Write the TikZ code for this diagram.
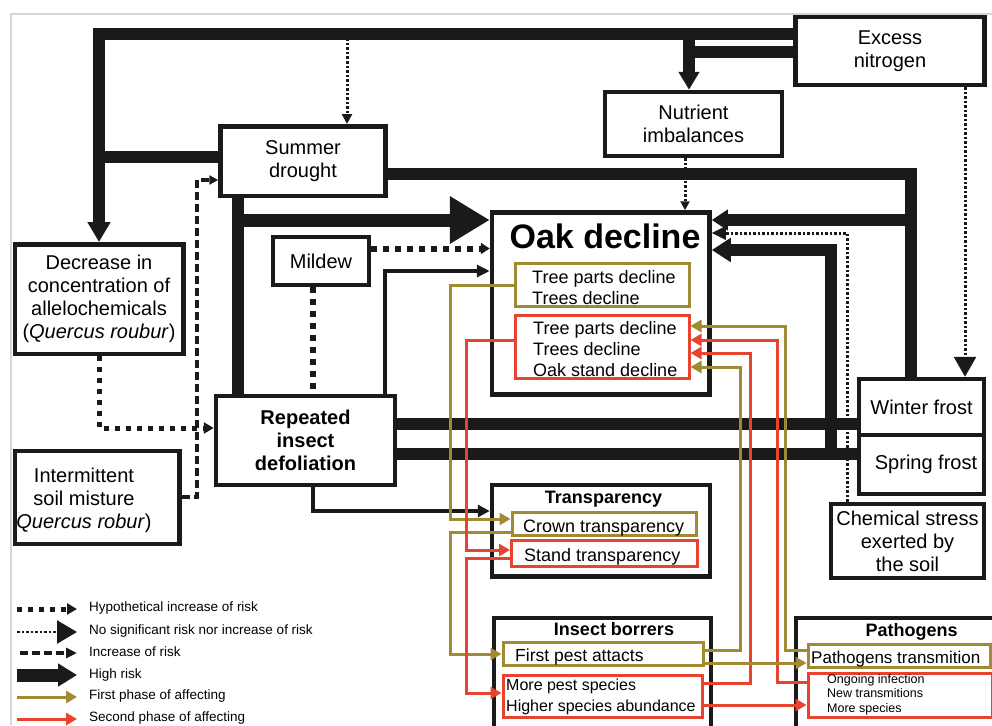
\documentclass[tikz,border=0pt]{standalone}
\usepackage{fontspec}
\setmainfont{Liberation Sans}
\usetikzlibrary{arrows.meta}
\pgfdeclarelayer{back}
\pgfdeclarelayer{bg}
\pgfsetlayers{back,bg,main}
\definecolor{blk}{HTML}{1A1A1A}
\definecolor{olv}{HTML}{A08A34}
\definecolor{rd}{HTML}{E8432F}
\definecolor{frm}{HTML}{D6D6D6}
\begin{document}
\begin{tikzpicture}[x=1pt,y=-1pt,
  bx/.style={draw=blk, line width=4.5pt, fill=white, inner sep=0pt, align=center, font=\fontsize{20}{23}\selectfont},
  ibo/.style={draw=olv, line width=3pt, fill=white, inner sep=0pt},
  ibr/.style={draw=rd, line width=3pt, fill=white, inner sep=0pt},
  txt/.style={inner sep=0pt, font=\fontsize{18}{21}\selectfont, align=left},
  ttl/.style={inner sep=0pt, font=\fontsize{18}{21}\selectfont\bfseries},
  lgt/.style={inner sep=0pt, font=\fontsize{13.5}{15}\selectfont, anchor=west},
  hi/.style={draw=blk, line width=12pt},
  thinb/.style={draw=blk, line width=3.2pt},
  hyp/.style={draw=blk, line width=5pt, dash pattern=on 5pt off 6pt},
  hypb/.style={draw=blk, line width=6pt, dash pattern=on 6pt off 6pt},
  nsr/.style={draw=blk, line width=3pt, dash pattern=on 2.5pt off 2pt},
  inc/.style={draw=blk, line width=4pt, dash pattern=on 8pt off 4pt},
  ph1/.style={draw=olv, line width=3pt},
  ph2/.style={draw=rd, line width=3pt},
  ctip/.tip={Triangle[width=12pt,length=11pt]},
]
\useasboundingbox (0,0) rectangle (992,725);
\begin{pgfonlayer}{back}
\fill[white] (0,0) rectangle (992,725);
\draw[frm, line width=2pt] (11,725) -- (11,14) -- (992,14);
\end{pgfonlayer}
\clip (0,0) rectangle (992,725);

% ---------- boxes ----------
\node[bx, minimum width=189pt, minimum height=67.5pt] (exc) at (890,51) {Excess\\nitrogen};
\node[bx, minimum width=177pt, minimum height=64pt] (nut) at (693.5,124) {Nutrient\\imbalances};
\node[bx, minimum width=165pt, minimum height=69.5pt] (sum) at (303,161) {Summer\\drought};
\node[bx, minimum width=217.5pt, minimum height=182pt] (oak) at (600.75,303.5) {};
\node[inner sep=0pt, font=\fontsize{34}{36}\selectfont\bfseries, anchor=base] (oakT) at (605,248) {Oak decline};
\node[ibo, minimum width=174pt, minimum height=43pt] (oakO) at (602,285) {};
\node[txt, anchor=west] (oakOT) at (532,288) {Tree parts decline\\Trees decline};
\node[ibr, minimum width=174pt, minimum height=62.5pt] (oakR) at (602,346.75) {};
\node[txt, anchor=west] (oakRT) at (533,349.5) {Tree parts decline\\Trees decline\\Oak stand decline};
\node[bx, minimum width=96pt, minimum height=48pt] (mil) at (321,261) {Mildew};
\node[bx, minimum width=168.5pt, minimum height=109.5pt] (dec) at (99,299) {Decrease in\\concentration of\\allelochemicals\\(\textit{Quercus roubur})};
\node[bx, minimum width=179pt, minimum height=89pt, font=\fontsize{20}{23}\selectfont\bfseries] (def) at (305.5,440.5) {Repeated\\insect\\defoliation};
\node[bx, minimum width=164.5pt, minimum height=93pt] (int) at (97,497.5) {};
\node[inner sep=0pt, align=center, font=\fontsize{20}{23}\selectfont] (intT) at (84,500) {Intermittent\\soil misture\\\textit{Quercus robur})};
\node[bx, minimum width=125pt, minimum height=56pt] (win) at (921.5,407) {Winter frost};
\node[bx, minimum width=125pt, minimum height=59pt] (spr) at (921.5,464.5) {\hspace*{9pt}Spring frost};
\node[bx, minimum width=153pt, minimum height=74pt] (chem) at (907.5,541) {Chemical stress\\exerted by\\the soil};
\node[bx, minimum width=218pt, minimum height=91.5pt] (tra) at (601,530.75) {};
\node[ttl, anchor=base] (traT) at (603.5,503) {Transparency};
\node[ibo, minimum width=184pt, minimum height=23.5pt] (cro) at (604,523.75) {};
\node[txt, anchor=base west] (croT) at (523,532) {Crown transparency};
\node[ibr, minimum width=186pt, minimum height=26pt] (sta) at (604.5,553) {};
\node[txt, anchor=base west] (staT) at (524,561) {Stand transparency};
\node[bx, minimum width=217pt, minimum height=130pt] (ins) at (602.5,683) {};
\node[ttl, anchor=base] (insT) at (614,635) {Insect borrers};
\node[ibo, minimum width=200pt, minimum height=23pt] (fir) at (603,654) {};
\node[txt, anchor=base west, font=\fontsize{17.5}{21}\selectfont] (firT) at (515,661) {First pest attacts};
\node[ibr, minimum width=199pt, minimum height=42.5pt] (mor) at (602.5,696.25) {};
\node[txt, anchor=west, font=\fontsize{16}{21}\selectfont] (morT) at (506,696.5) {More pest species\\Higher species abundance};
\node[bx, minimum width=220pt, minimum height=130pt] (pat) at (906,683) {};
\node[ttl, anchor=base] (patT) at (911.5,636) {Pathogens};
\node[ibo, minimum width=182pt, minimum height=23pt] (ptr) at (899,656) {};
\node[txt, anchor=base west, font=\fontsize{17}{20}\selectfont] (ptrT) at (811,663) {Pathogens transmition};
\node[ibr, minimum width=184pt, minimum height=44pt] (pre) at (900,695) {};
\node[txt, anchor=west, font=\fontsize{12.5}{14.5}\selectfont] (preT) at (827,694.5) {Ongoing infection\\New transmitions\\More species};

% ---------- helper coordinates ----------
\coordinate (jTL) at (99,34);
\coordinate (ySB) at (0,157);
\coordinate (yN) at (0,52);
\coordinate (xN) at (689,0);
\coordinate (xD) at (347,0);
\coordinate (xE) at (965,0);
\coordinate (xF) at (685,0);
\coordinate (yG) at (0,174);
\coordinate (xG) at (911,0);
\coordinate (yH) at (0,220);
\coordinate (xI) at (847,0);
\coordinate (yI) at (0,233);
\coordinate (xJ) at (831,0);
\coordinate (yJ) at (0,250);
\coordinate (yS) at (0,454);
\coordinate (yW) at (0,424);
\coordinate (xL) at (238,0);
\coordinate (yM) at (0,248.5);
\coordinate (xO) at (313,0);
\coordinate (xP) at (385,0);
\coordinate (yP) at (0,271);
\coordinate (yT) at (0,511);
\coordinate (yQ) at (0,428);
\coordinate (xR) at (196.5,0);
\coordinate (yR1) at (0,497);
\coordinate (yR2) at (0,180);

% ---------- black connectors ----------
\begin{pgfonlayer}{bg}
\draw[hi, -{Triangle[width=22pt,length=20pt]}] (exc.west |- jTL) -| (dec.north);
\draw[hi] (sum.west |- ySB) -- (dec.north |- ySB);
\draw[hi, -{Triangle[width=20pt,length=18pt]}] (exc.west |- yN) -| (xN |- nut.north);
\draw[hi] (xN |- jTL) -- (xN |- yN);
\draw[nsr, -{Triangle[width=10pt,length=10pt]}] (xD |- jTL) -- (xD |- sum.north);
\draw[nsr, -{Triangle[width=22pt,length=20pt]}] (xE |- exc.south) -- (xE |- win.north);
\draw[nsr, -{Triangle[width=9pt,length=9pt]}] (xF |- nut.south) -- (xF |- oak.north);
\draw[nsr, -{Triangle[width=13pt,length=14pt]}] (xI |- chem.north) |- (oak.east |- yI);
\draw[hi] (sum.east |- yG) -| (xG |- win.north);
\draw[hi, -{Triangle[width=20pt,length=16pt]}] (xG |- win.north) |- (oak.east |- yH);
\draw[hi, -{Triangle[width=23pt,length=19pt]}] (spr.west |- yS) -| (xJ |- yJ) -- (oak.east |- yJ);
\draw[hi] (def.east |- yW) -- (win.west |- yW);
\draw[hi] (def.east |- yS) -- (spr.west |- yS);
\draw[hi] (xL |- sum.south) -- (xL |- def.north);
\draw[draw=blk, line width=13pt, -{Triangle[width=45pt,length=40pt]}] (xL |- yH) -- (oak.west |- yH);
\draw[hypb, -{Triangle[width=11pt,length=9pt]}] (mil.east |- yM) -- (oak.west |- yM);
\draw[hypb] (xO |- mil.south) -- (xO |- def.north);
\draw[thinb, -{Triangle[width=12pt,length=13pt]}] (xP |- def.north) |- (oak.west |- yP);
\draw[thinb, -{Triangle[width=12pt,length=12pt]}] (xO |- def.south) |- (tra.west |- yT);
\draw[hyp, -{Triangle[width=11pt,length=10pt]}] (dec.south) |- (def.west |- yQ);
\draw[inc, -{Triangle[width=9pt,length=9pt]}] (int.east |- yR1) -| (xR |- yR2) -- (sum.west |- yR2);
\end{pgfonlayer}

% ---------- phase connectors ----------
\coordinate (xO1) at (450,0);
\coordinate (yO1b) at (0,519);
\coordinate (yO2a) at (0,532);
\coordinate (xR1) at (466,0);
\coordinate (yRa) at (0,340);
\coordinate (yRb) at (0,550);
\coordinate (yRc) at (0,558);
\coordinate (yRd) at (0,693);
\coordinate (xP1) at (785,0);
\coordinate (yP1a) at (0,326);
\coordinate (yP1b) at (0,650);
\coordinate (xP2) at (777,0);
\coordinate (yP2b) at (0,682);
\coordinate (xP3) at (750,0);
\coordinate (yP3a) at (0,353);
\coordinate (yP3b) at (0,683);
\coordinate (xP4) at (740,0);
\coordinate (yP4a) at (0,367);
\coordinate (y663) at (0,663);
\coordinate (y705) at (0,705);

\draw[ph1, -ctip] (oakO.west) -| (xO1 |- yO1b) -- (cro.west |- yO1b);
\draw[ph1, -ctip] (cro.west |- yO2a) -| (xO1 |- fir.west) -- (fir.west);
\draw[ph2, -ctip] (oakR.west |- yRa) -| (xR1 |- yRb) -- (sta.west |- yRb);
\draw[ph2, -ctip] (sta.west |- yRc) -| (xR1 |- yRd) -- (mor.west |- yRd);
\draw[ph1, -ctip] (ptr.west |- yP1b) -| (xP1 |- yP1a) -- (oakR.east |- yP1a);
\draw[ph2, -ctip] (pre.west |- yP2b) -| (xP2 |- yRa) -- (oakR.east |- yRa);
\draw[ph2, -ctip] (mor.east |- yP3b) -| (xP3 |- yP3a) -- (oakR.east |- yP3a);
\draw[ph1, -ctip] (fir.east |- yP1b) -| (xP4 |- yP4a) -- (oakR.east |- yP4a);
\draw[ph1, -ctip] (fir.east |- y663) -- (ptr.west |- y663);
\draw[ph2, -ctip] (mor.east |- y705) -- (pre.west |- y705);

% ---------- legend ----------
\coordinate (lg1a) at (17,609); \coordinate (lg1b) at (77,609);
\coordinate (lg2a) at (17,632); \coordinate (lg2b) at (77,632);
\coordinate (lg3a) at (20,653); \coordinate (lg3b) at (77,653);
\coordinate (lg4a) at (17,675); \coordinate (lg4b) at (77,675);
\coordinate (lg5a) at (17,697); \coordinate (lg5b) at (77,697);
\coordinate (lg6a) at (17,719); \coordinate (lg6b) at (77,719);
\draw[hyp, -{Triangle[width=11pt,length=10pt]}] (lg1a) -- (lg1b);
\draw[nsr, line width=2.5pt, -{Triangle[width=23pt,length=20pt]}] (lg2a) -- (lg2b);
\draw[inc, -{Triangle[width=10pt,length=11pt]}] (lg3a) -- (lg3b);
\draw[draw=blk, line width=13pt, -{Triangle[width=22pt,length=19pt]}] (lg4a) -- (lg4b);
\draw[ph1, -ctip] (lg5a) -- (lg5b);
\draw[ph2, -ctip] (lg6a) -- (lg6b);
\node[lgt] (lt1) at (89,608) {Hypothetical increase of risk};
\node[lgt] (lt2) at (89,631) {No significant risk nor increase of risk};
\node[lgt] (lt3) at (89,652) {Increase of risk};
\node[lgt] (lt4) at (89,675) {High risk};
\node[lgt] (lt5) at (89,696) {First phase of affecting};
\node[lgt] (lt6) at (89,718) {Second phase of affecting};
\end{tikzpicture}
\end{document}
